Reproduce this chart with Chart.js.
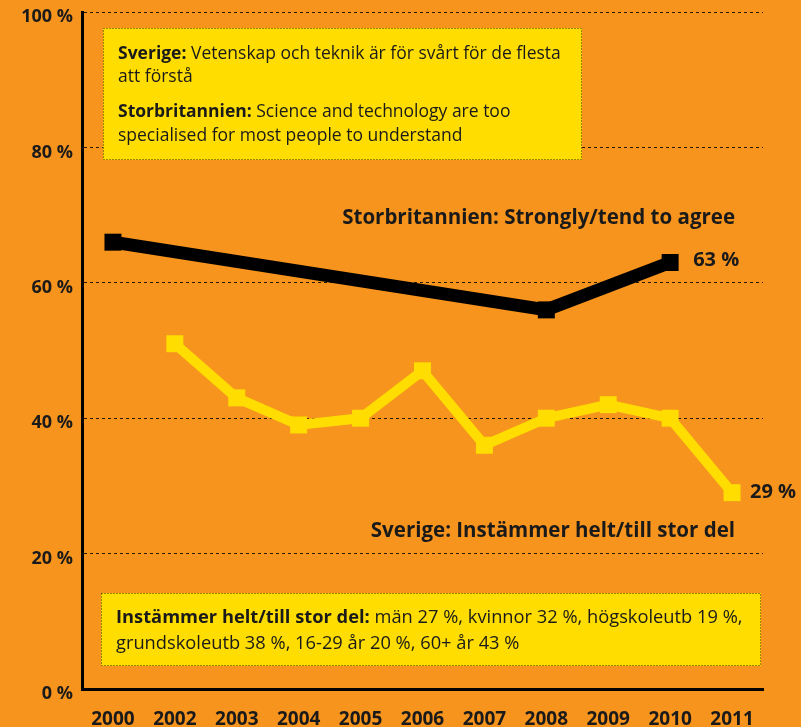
<!DOCTYPE html>
<html>
<head>
<meta charset="utf-8">
<script src="https://cdn.jsdelivr.net/npm/chart.js@4"></script>
<style>
  html, body { margin: 0; padding: 0; background: #F7941E; }
  #wrap { position: relative; width: 801px; height: 727px; }
</style>
</head>
<body>
<div id="wrap"><canvas id="chart" width="801" height="727"></canvas></div>
<script>
const years = ["2000", "2002", "2003", "2004", "2005", "2006", "2007", "2008", "2009", "2010", "2011"]
// Storbritannien: Strongly/tend to agree (only 2000, 2008, 2010 measured)
const ukValues = [66, null, null, null, null, null, null, 56, null, 63, null]
// Sverige: Instämmer helt/till stor del
const seValues = [null, 51, 43, 39, 40, 47, 36, 40, 42, 40, 29]
const yTicks = [0, 20, 40, 60, 80, 100]

const topBoxLines = [
  [["Sverige:", true], [" Vetenskap och teknik är för svårt för de flesta", false]],
  [["att förstå", false]],
  [["Storbritannien:", true], [" Science and technology are too", false]],
  [["specialised for most people to understand", false]],
]
const bottomBoxLines = [
  [["Instämmer helt/till stor del:", true], [" män 27 %, kvinnor 32 %, högskoleutb 19 %,", false]],
  [["grundskoleutb 38 %, 16-29 år 20 %, 60+ år 43 %", false]],
]

const YELLOW = "#FFDD00"
const INK = "#1a1a1a"
const FONT = "'Open Sans', 'DejaVu Sans', sans-serif"

// Draws a yellow box with a dotted border and mixed bold/regular text lines
const drawBox = (ctx, x, y, w, h, lines, lineTops, size) => {
  ctx.save()
  ctx.fillStyle = YELLOW
  ctx.fillRect(x, y, w, h)
  ctx.setLineDash([1, 2])
  ctx.strokeStyle = "#3a2a00"
  ctx.lineWidth = 1
  ctx.strokeRect(x + 0.5, y + 0.5, w - 1, h - 1)
  ctx.setLineDash([])
  ctx.textBaseline = "middle"
  ctx.fillStyle = INK
  lines.forEach((parts, i) => {
    let cx = x + 15
    parts.forEach(([text, bold]) => {
      ctx.font = (bold ? "bold " : "") + size + "px " + FONT
      ctx.fillText(text, cx, lineTops[i])
      cx += ctx.measureText(text).width
    })
  })
  ctx.restore()
}

const annotations = {
  id: "annotations",
  beforeDatasetsDraw(chart) {
    const ctx = chart.ctx
    drawBox(ctx, 103, 28, 479, 132, topBoxLines, [54, 77, 112, 136], 17.5)
    drawBox(ctx, 101, 593, 660, 73, bottomBoxLines, [618, 644], 18.3)
  },
  afterDatasetsDraw(chart) {
    const ctx = chart.ctx
    const x = chart.scales.x
    const y = chart.scales.y
    ctx.save()
    ctx.fillStyle = INK
    ctx.textBaseline = "middle"
    ctx.font = "bold 20px " + FONT
    ctx.textAlign = "left"
    ctx.fillText(ukValues[9] + " %", x.getPixelForValue(9) + 23, y.getPixelForValue(ukValues[9]) - 2)
    ctx.fillText(seValues[10] + " %", x.getPixelForValue(10) + 18, y.getPixelForValue(seValues[10]))
    ctx.textAlign = "right"
    ctx.font = "bold 20.5px " + FONT
    ctx.fillText("Storbritannien: Strongly/tend to agree", 735, 218)
    ctx.fillText("Sverige: Instämmer helt/till stor del", 735, 531)
    ctx.restore()
  },
}

new Chart(document.getElementById("chart"), {
  type: "line",
  data: {
    labels: years,
    datasets: [
      {
        label: "Storbritannien",
        data: ukValues,
        spanGaps: true,
        borderColor: "#000",
        backgroundColor: "#000",
        borderWidth: 13,
        borderJoinStyle: "miter",
        pointStyle: "rect",
        pointRadius: 12,
        pointBorderWidth: 0,
      },
      {
        label: "Sverige",
        data: seValues,
        spanGaps: true,
        borderColor: YELLOW,
        backgroundColor: YELLOW,
        borderWidth: 10,
        borderJoinStyle: "miter",
        pointStyle: "rect",
        pointRadius: 12,
        pointBorderWidth: 0,
      },
    ],
  },
  options: {
    responsive: false,
    animation: false,
    layout: { padding: { top: 10, right: 38, left: 0, bottom: 0 } },
    plugins: {
      legend: { display: false },
      tooltip: { enabled: false },
    },
    scales: {
      x: {
        offset: true,
        grid: { display: false },
        border: { color: "#000", width: 3 },
        ticks: {
          color: INK,
          font: { family: FONT, size: 19, weight: "bold" },
          padding: 11,
          maxRotation: 0,
          autoSkip: false,
        },
        afterFit: (scale) => { scale.height = 38 },
      },
      y: {
        min: 0,
        max: 100,
        afterBuildTicks: (scale) => { scale.ticks = yTicks.map((v) => ({ value: v })) },
        grid: {
          color: "#2a1a00",
          lineWidth: 1,
          drawTicks: false,
        },
        border: { color: "#000", width: 3, dash: [3, 3] },
        ticks: {
          color: INK,
          font: { family: FONT, size: 18, weight: "bold" },
          padding: 9,
          labelOffset: 5,
          callback: (v) => v + " %",
        },
        afterFit: (scale) => {
          scale.width = 82
          scale.paddingTop = 0
          scale.paddingBottom = 0
        },
      },
    },
  },
  plugins: [annotations],
})
</script>
</body>
</html>
